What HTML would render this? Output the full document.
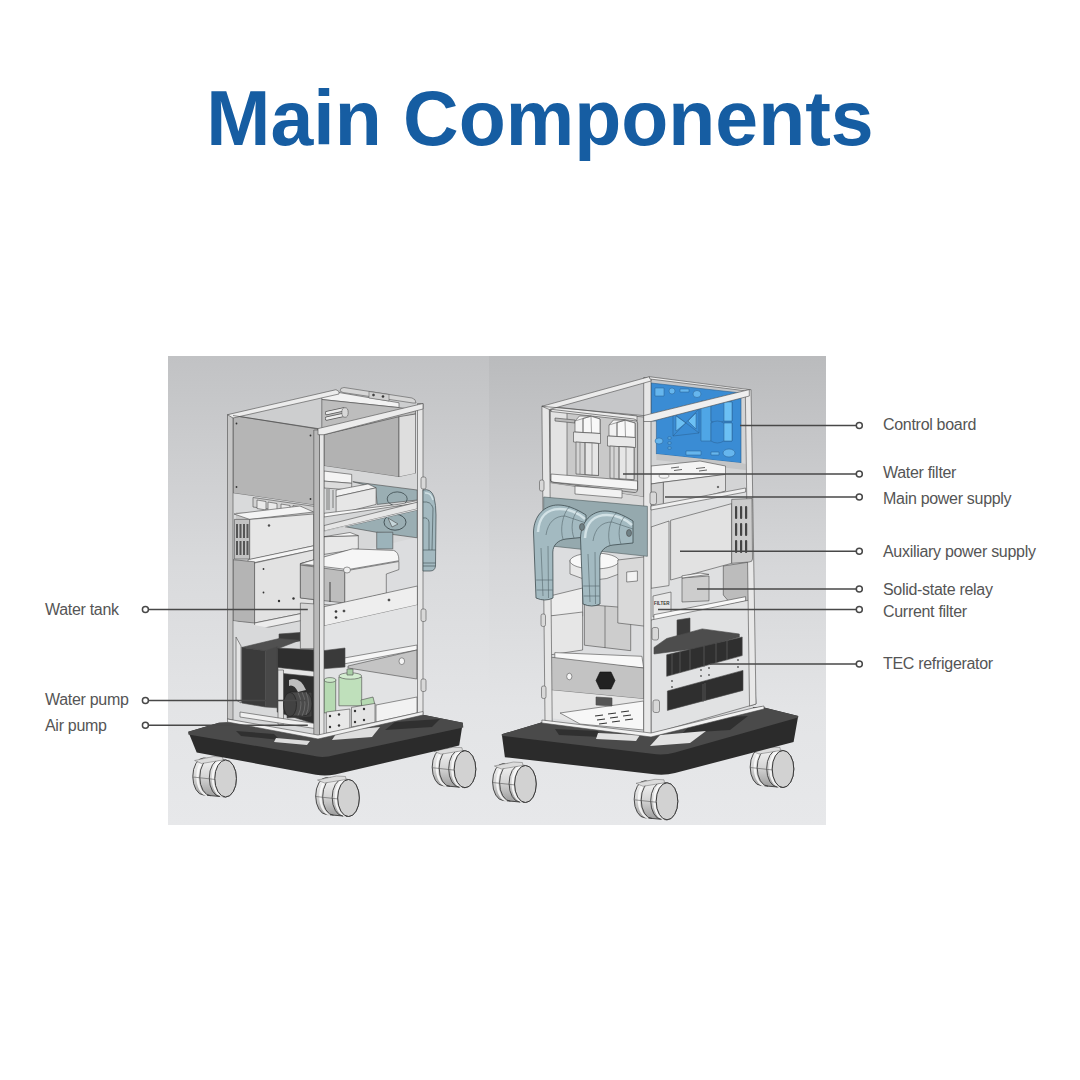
<!DOCTYPE html>
<html><head><meta charset="utf-8">
<style>
html,body{margin:0;padding:0;background:#fff;}
body{width:1080px;height:1080px;position:relative;overflow:hidden;font-family:"Liberation Sans",sans-serif;}
.title{position:absolute;left:0;top:0;width:1080px;text-align:center;color:#165da2;font-weight:bold;font-size:77px;line-height:1;}
.lbl{position:absolute;color:#555;font-size:16px;line-height:1;white-space:nowrap;letter-spacing:-0.3px;}
svg{position:absolute;left:0;top:0;}
</style></head>
<body>
<div class="title" id="title" style="top:80px">Main Components</div>
<svg width="1080" height="1080" viewBox="0 0 1080 1080">
<defs>
<linearGradient id="bgL" x1="0" y1="0" x2="0" y2="1">
<stop offset="0" stop-color="#c1c2c4"/><stop offset="0.45" stop-color="#d9dadc"/><stop offset="0.75" stop-color="#e3e4e6"/><stop offset="1" stop-color="#e7e8ea"/></linearGradient>
<linearGradient id="bgR" x1="0" y1="0" x2="0" y2="1">
<stop offset="0" stop-color="#babbbd"/><stop offset="0.45" stop-color="#d6d7d9"/><stop offset="0.75" stop-color="#e3e4e6"/><stop offset="1" stop-color="#e7e8ea"/></linearGradient>
<linearGradient id="barrel" x1="0" y1="0" x2="0" y2="1">
<stop offset="0" stop-color="#f4f4f4"/><stop offset="0.5" stop-color="#d4d4d4"/><stop offset="1" stop-color="#9a9a9a"/></linearGradient>

</defs>
<rect x="168" y="356" width="321" height="469" fill="url(#bgL)"/>
<rect x="489" y="356" width="337" height="469" fill="url(#bgR)"/>
<g id="machineL">
<g transform="translate(225.6,778.5)">
<path d="M-22,-20.5 L0,-18.5 A10.8,18.5 0 0 1 0,18.5 L-22,16.5 A10.8,18.5 0 0 1 -22,-20.5 Z" fill="url(#barrel)" stroke="#3a3a3a" stroke-width="0.9"/>
<path d="M-18.5,-20 A10.8,18.5 0 0 0 -18.5,16.8 M-2.7,-18.7 A10.8,18.5 0 0 0 -2.7,18.2" fill="none" stroke="#fafafa" stroke-width="2.2" opacity="0.85"/>
<path d="M-15,-19.8 A10.8,18.5 0 0 0 -15,17.2 M-5.5,-19 A10.8,18.5 0 0 0 -5.5,18" fill="none" stroke="#3a3a3a" stroke-width="0.9"/>
<path d="M-32.8,-1.5 L-10,1" fill="none" stroke="#555" stroke-width="0.6"/>
<path d="M-31,-18 L-12,-22 L-3,-21.5 L-2.5,-18.5 L-24,-15 Z" fill="#dcdcdc" stroke="#666" stroke-width="0.5"/>
<ellipse cx="0" cy="0" rx="10.8" ry="18.5" fill="#d2d2d2" stroke="#3a3a3a" stroke-width="1"/>
</g>
<g transform="translate(348.5,798)">
<path d="M-22,-20.5 L0,-18.5 A10.8,18.5 0 0 1 0,18.5 L-22,16.5 A10.8,18.5 0 0 1 -22,-20.5 Z" fill="url(#barrel)" stroke="#3a3a3a" stroke-width="0.9"/>
<path d="M-18.5,-20 A10.8,18.5 0 0 0 -18.5,16.8 M-2.7,-18.7 A10.8,18.5 0 0 0 -2.7,18.2" fill="none" stroke="#fafafa" stroke-width="2.2" opacity="0.85"/>
<path d="M-15,-19.8 A10.8,18.5 0 0 0 -15,17.2 M-5.5,-19 A10.8,18.5 0 0 0 -5.5,18" fill="none" stroke="#3a3a3a" stroke-width="0.9"/>
<path d="M-32.8,-1.5 L-10,1" fill="none" stroke="#555" stroke-width="0.6"/>
<path d="M-31,-18 L-12,-22 L-3,-21.5 L-2.5,-18.5 L-24,-15 Z" fill="#dcdcdc" stroke="#666" stroke-width="0.5"/>
<ellipse cx="0" cy="0" rx="10.8" ry="18.5" fill="#d2d2d2" stroke="#3a3a3a" stroke-width="1"/>
</g>
<g transform="translate(465,769.2)">
<path d="M-22,-20.5 L0,-18.5 A10.8,18.5 0 0 1 0,18.5 L-22,16.5 A10.8,18.5 0 0 1 -22,-20.5 Z" fill="url(#barrel)" stroke="#3a3a3a" stroke-width="0.9"/>
<path d="M-18.5,-20 A10.8,18.5 0 0 0 -18.5,16.8 M-2.7,-18.7 A10.8,18.5 0 0 0 -2.7,18.2" fill="none" stroke="#fafafa" stroke-width="2.2" opacity="0.85"/>
<path d="M-15,-19.8 A10.8,18.5 0 0 0 -15,17.2 M-5.5,-19 A10.8,18.5 0 0 0 -5.5,18" fill="none" stroke="#3a3a3a" stroke-width="0.9"/>
<path d="M-32.8,-1.5 L-10,1" fill="none" stroke="#555" stroke-width="0.6"/>
<path d="M-31,-18 L-12,-22 L-3,-21.5 L-2.5,-18.5 L-24,-15 Z" fill="#dcdcdc" stroke="#666" stroke-width="0.5"/>
<ellipse cx="0" cy="0" rx="10.8" ry="18.5" fill="#d2d2d2" stroke="#3a3a3a" stroke-width="1"/>
</g>
<!-- base -->
<path d="M188.3,731.7 L218.9,722.8 L421.7,714.4 L462.8,722.8 L459.2,745.6 L335,774.5 Q325.6,776.5 316,774.8 L196.7,752.5 Z" fill="#2b2b2b"/>
<path d="M188.3,731.7 L218.9,722.8 L421.7,714.4 L462.8,722.8 L463.3,727.5 L335,755 Q323,758.5 312,755.5 L188.3,734.4 Z" fill="#4a4a4a"/>
<path d="M236,731 L274,734 L280,740 L241,736 Z" fill="#303030"/>
<path d="M276,738 L310,741 L307,745 L274,742 Z" fill="#dcdcdc"/>
<path d="M395,722 L440,719 L432,727 L385,730 Z" fill="#303030"/>
<path d="M338,731 L380,727 L372,737 L332,740 Z" fill="#dedede"/>
<!-- body L placeholder -->
<g stroke="#4a4a4a" stroke-width="0.6" stroke-linejoin="round">
<!-- interior through right face -->
<path d="M318,428.6 L423,403.5 L423,713.6 L318,737 Z" fill="#dcdddf" stroke="none"/>
<!-- top opening interior -->
<path d="M227.5,414.7 L336,389.7 L423,403.5 L318,428.6 Z" fill="#cdcecf" stroke="none"/>
<!-- back wall top strip & wall -->
<path d="M321.8,396 L336,392 L399,402.8 L399,407.6 L321.8,399.5 Z" fill="#f2f2f2"/>
<path d="M321.8,399.5 L399,407.6 L415.5,410 L415.5,414 L324,434.7 L321.8,428 Z" fill="#bdbdbd"/>
<path d="M327,413 L343,409.5 M327,418.5 L343,415" stroke="#555" stroke-width="4.2" stroke-linecap="round"/>
<path d="M327,413 L343,409.5 M327,418.5 L343,415" stroke="#ececec" stroke-width="2.8" stroke-linecap="round"/>
<ellipse cx="345" cy="412.5" rx="3.2" ry="4.8" fill="#d8d8d8" stroke="#555" stroke-width="0.6"/>
<!-- handle -->
<path d="M340,391 Q340,387.5 344,387.5 L412,398 Q416,399 416,403 L413,403 L343,392.5 Z" fill="#d6d6d6" stroke="#555" stroke-width="0.6"/>
<path d="M369,391.5 L389,394.5 L389,401 L369,398 Z" fill="#d0d0d0" stroke="#555" stroke-width="0.5"/><circle cx="373.5" cy="395" r="1.1" fill="#333"/><circle cx="383" cy="396.5" r="1.1" fill="#333"/>
<!-- top box -->
<path d="M324,434.7 L399,416.7 L399,477 L324,466 Z" fill="#b2b2b2"/>
<path d="M399,416.7 L415.5,414 L415.5,473.6 L399,477 Z" fill="#dedede"/>
<!-- upper shelf region -->
<path d="M324,466 L399,477 L415.5,473.6 L417.5,474 L417.5,537 L324,560 Z" fill="#d6d7d8" stroke="none"/>
<path d="M352.8,481.7 L417.2,490 L417.2,500 L377.2,504.4 L375.6,487.8 Z" fill="#9aaeb3"/>
<ellipse cx="397.2" cy="498.9" rx="10" ry="7" fill="none" stroke="#3c4a4e" stroke-width="0.8"/>
<path d="M323.9,471 L351.7,474.4 L351.7,483.3 L323.9,481.1 Z" fill="#f4f4f4"/>
<path d="M323.9,481.1 L351.7,483.3 L351.7,490 L323.9,488 Z" fill="#dcdcdc"/>
<path d="M327,489 L327,510 M329,489 L329,510 M333,490 L333,508" stroke="#555" stroke-width="0.7"/>
<path d="M336.1,490 L368,484 L376.1,487.8 L336.1,496.7 Z" fill="#f2f2f2"/>
<path d="M336.1,496.7 L376.1,487.8 L376.1,504.4 L336.1,514.4 Z" fill="#e6e6e6"/>
<path d="M323.9,513.3 L398.3,504.4 L417.2,500.6 L417.2,503 L323.9,517 Z" fill="#f6f6f6"/>
<path d="M345,526.7 L417.2,510 L417.2,537.8 L376.1,532.2 Z" fill="#9aaeb3"/>
<ellipse cx="395" cy="522.2" rx="11" ry="8" fill="none" stroke="#3c4a4e" stroke-width="0.9"/>
<path d="M388,518 L398,524 L392,527 Z" fill="#c6d6da"/>
<path d="M376.7,532.2 L392.8,532.2 L392.8,548.9 L376.7,548.9 Z" fill="#9cb3ba"/>
<!-- middle rail -->
<path d="M323.9,525.6 L417.2,502.2 L417.2,508.9 L323.9,531.1 Z" fill="#e6e6e6"/>
<!-- second compartment -->
<path d="M323.9,531.1 L417.2,508.9 L417.2,510 L345,526.7 L324,531.5 Z" fill="#dedfe0" stroke="none"/>
<path d="M323.9,536.7 L358.3,535.6 L358.3,548.9 L323.9,554.4 Z" fill="#e8e8e8"/>
<path d="M323.9,536.7 L350,532.5 L358.3,535.6 Z" fill="#f6f6f6"/>
<!-- left face: upper solid panel -->
<path d="M233,415.5 L318,429 L318,505.7 L233,493.2 Z" fill="#b5b5b5"/>
<g fill="#333" stroke="none"><circle cx="236.5" cy="423.5" r="0.9"/><circle cx="310.5" cy="435.5" r="0.9"/><circle cx="236.5" cy="487" r="0.9"/><circle cx="310.5" cy="499" r="0.9"/></g>
<!-- left face opening 2 -->
<path d="M233,493.2 L318,505.7 L318,737 L233,720 Z" fill="#d9dadb" stroke="none"/>
<path d="M253,497.5 L315,506.5 L315,515 L253,507 Z" fill="#d2d2d2"/>
<path d="M257,500 L266,501.5 L266,510 L257,508.5 Z M268,502 L277,503.5 L277,512 L268,510.5 Z M281,504 L290,505.5 L290,514 L281,512.5 Z M293,505.5 L302,507 L302,515 L293,513.5 Z" fill="#e9e9e9"/>
<path d="M236,512 L315,512 L315,519 L236,519 Z" fill="#c9c9c9" stroke="none"/>
<path d="M234,514 L300,506 L313.6,512 L249.7,519.4 Z" fill="#f4f4f4"/>
<path d="M234.4,519.4 L249.7,519.4 L249.7,559 L234.4,559 Z" fill="#c2c2c2"/>
<g fill="#555" stroke="none"><rect x="236" y="524" width="2" height="14"/><rect x="239.5" y="524" width="2" height="14"/><rect x="243" y="524" width="2" height="14"/><rect x="246.5" y="524" width="2" height="14"/><rect x="236" y="541" width="2" height="14"/><rect x="239.5" y="541" width="2" height="14"/><rect x="243" y="541" width="2" height="14"/><rect x="246.5" y="541" width="2" height="14"/></g>
<path d="M249.7,519.4 L313.6,514 L313.6,545.8 L249.7,559.7 Z" fill="#e6e6e6"/>
<circle cx="269" cy="525.5" r="0.9" fill="#333"/>
<path d="M248,559.7 L313.6,545.8 L313.6,550 L248,564 Z" fill="#f5f5f5"/>
<path d="M233,559.7 L254.6,561.8 L254.6,623 L233,620.8 Z" fill="#b4b4b4"/>
<path d="M254.6,563 L313.6,550 L313.6,611 L254.6,623 Z" fill="#e2e2e2"/>
<path d="M300.4,563.7 L318,559 L318,600 L300.4,597.8 Z" fill="#d0d0d0"/>
<path d="M300.4,563.7 L318,558.5 L318,566 L300.4,565 Z" fill="#f7f7f7"/>
<g fill="#333" stroke="none"><circle cx="263.5" cy="569" r="0.9"/><circle cx="263.5" cy="592.5" r="0.9"/><circle cx="279" cy="601" r="1.2"/><circle cx="293.5" cy="598.5" r="1.2"/></g>
<path d="M254.6,623 L313.6,611 L313.6,618 L254.6,630 Z" fill="#ececec"/>
<!-- left lower opening: water pump -->
<path d="M233,621 L318,637 L318,737 L233,720 Z" fill="#d8d9da" stroke="none"/>
<path d="M236,637 L241,646 L241,703 L236,700 Z" fill="#e4e4e4"/>
<path d="M279,634 L300,632.5 L300,641 L279,643 Z" fill="#3a3a3a"/>
<path d="M241.8,647.4 L279.2,638.5 L299.6,640.3 L278.2,648.5 L265.4,651 Z" fill="#505050"/>
<path d="M241.8,647.4 L265.4,650.8 L265.4,707 L241.8,703 Z" fill="#3b3b3b"/>
<path d="M265.4,650.8 L277.2,646.7 L277.2,707.8 L265.4,707 Z" fill="#484848"/>
<path d="M277.2,648 L318,650 L318,725 L277.2,712 Z" fill="#2e2e2e"/>
<path d="M278,667.5 L317.5,671.7 L317.5,677 L278,673 Z" fill="#e6e6e6"/>
<path d="M278,670 L283.5,670 L283.5,724.4 L278,724.4 Z" fill="#e0e0e0"/>
<path d="M287,697 L311,693 L311,716 L287,718 Z" fill="#3c3c3c"/>
<path d="M300,692 Q312,690 312,704 Q312,717 300,716 L290,716 L290,692 Z" fill="#4a4a4a" stroke="#222" stroke-width="0.6"/>
<ellipse cx="290" cy="704.5" rx="6.5" ry="12" fill="#424242" stroke="#222" stroke-width="0.7"/>
<path d="M298,692.5 Q304,704 298,715.5 M302,692 Q308,704 302,716 M306,692 Q311,704 306,715" fill="none" stroke="#777" stroke-width="0.7"/>
<path d="M289,680 Q300,676 306,690 L298,692 Q294,684 289,686 Z" fill="#bdbdbd" stroke="none"/>
<path d="M240,712 L318,724 L318,729 L240,717 Z" fill="#f0f0f0"/>
<!-- water tank -->
<path d="M300.4,563.7 L352.2,548.9 L393.7,550.4 Q399,552 398.9,560.7 L347.8,569.6 Z" fill="#f6f6f6"/>
<path d="M300.4,565 L344.8,571 L344.8,603 L300.4,598 Z" fill="#bdbdbd"/>
<path d="M344.8,571 L398.9,561.5 L398.9,569.6 L386.3,574 L386.3,593.3 L344.8,603 Z" fill="#e3e3e3"/>
<ellipse cx="347" cy="570" rx="3.5" ry="3" fill="#f0f0f0" stroke="#555" stroke-width="0.6"/>
<path d="M330,582 L330,602" stroke="#333" stroke-width="0.9"/>
<path d="M346.3,617 L384.8,608 L384.8,648 L346.3,657 Z" fill="#dcdcdc"/>
<path d="M300.4,603 L346,606 L346,660 L314,652 L314,648.7 L300.4,648.7 Z" fill="#d6d6d6"/>
<!-- cross bar -->
<path d="M324,606.7 L417.4,586 L417.4,605 L324,626 Z" fill="#eeeeee"/>
<circle cx="336" cy="611.5" r="1.1" fill="#333"/><circle cx="344" cy="611" r="1.1" fill="#333"/><circle cx="336" cy="617.5" r="1.1" fill="#333"/><circle cx="389" cy="600" r="1.1" fill="#333"/>
<!-- lower compartment interior -->
<path d="M324,626 L417.4,605 L417.4,713.6 L324,737 Z" fill="#e2e3e4" stroke="none"/>
<path d="M333,660 L417,645 L417,650 L333,666 Z" fill="#f6f6f6"/>
<path d="M348,666 L416.8,650 L416.8,679 L348,668 Z" fill="#c4c4c4"/>
<ellipse cx="401.8" cy="661.2" rx="2.8" ry="3.4" fill="#f4f4f4" stroke="#555" stroke-width="0.6"/>
<path d="M323,650.7 L345,648 L345,667 L323,668.8 Z" fill="#3a3a3a"/>
<!-- green pumps -->
<path d="M338.9,677 L361.7,677 L361.7,705.8 L338.9,705.8 Z" fill="#bfe0bb"/>
<ellipse cx="350.3" cy="676" rx="11.4" ry="3.2" fill="#d3ecd0"/>
<rect x="347" y="669" width="6" height="6" fill="#a9cfa6"/>
<path d="M324,680 L335.7,680 L335.7,712.9 L324,712.9 Z" fill="#b6dab2"/>
<ellipse cx="330" cy="680" rx="6" ry="2.4" fill="#cde8ca"/>
<path d="M361,700 L373,697 L375,705 L362,708 Z" fill="#b6dab2"/>
<!-- manifold blocks -->
<path d="M326.3,712 L349.9,709 L349.9,730.2 L326.3,733.3 Z" fill="#e8e8e8"/>
<path d="M351.5,707.4 L375,703.4 L375,722.3 L351.5,727 Z" fill="#e4e4e4"/>
<g fill="#333" stroke="none"><circle cx="330" cy="716" r="1.2"/><circle cx="339" cy="714.5" r="1.2"/><circle cx="330" cy="727" r="1.2"/><circle cx="339" cy="725.5" r="1.2"/><circle cx="355" cy="711" r="1.2"/><circle cx="364" cy="709" r="1.2"/><circle cx="355" cy="722" r="1.2"/><circle cx="364" cy="720" r="1.2"/></g>
<path d="M376,705 L417,697 L417,713 L376,722 Z" fill="#f2f2f2"/>
<!-- frame -->
<path d="M227.5,414.7 L233,414.7 L233,720 L227.5,719 Z" fill="#c6c6c6"/>
<path d="M313.8,430 L319.5,430 L319.5,737 L313.8,736 Z" fill="#b9b9b9"/>
<path d="M319.5,428.6 L324,428.6 L324,737.5 L319.5,737.5 Z" fill="#e6e6e6"/>
<path d="M417.5,403.5 L423,403.5 L423,714 L417.5,714 Z" fill="#e6e6e6"/>
<path d="M227.5,414.7 L336,389.7 L339,391.5 L339,394 L233,418 Z" fill="#ececec"/>
<path d="M233,415.5 L318,428.6" fill="none"/>
<path d="M318,428.6 L423,403.5 L423,409 L324,434.7 L318,434.7 Z" fill="#ececec"/>
<path d="M227.5,719 L318,735 L423,711.5 L423,715 L318,739 L227.5,722 Z" fill="#f0f0f0"/>
<g fill="#d8d8d8" stroke="#555" stroke-width="0.6"><rect x="421" y="477" width="5" height="12" rx="1.8"/><rect x="421" y="609" width="5" height="12.5" rx="1.8"/><rect x="421" y="679" width="5" height="12.5" rx="1.8"/></g>
<!-- exterior elbow -->
<path d="M423,490 Q431,488 434,497 Q436,505 436,515 L435.5,566 Q435,571 430,571 L423,571 Z" fill="#a3b9c0" stroke="#3d4b4f" stroke-width="0.7"/>
<path d="M423,502 Q431,501 433,508 L432,550 M423,518 Q428,517 429,522 L429,550 M423,550 L435.5,550 M423,563 L435.5,563 M423,566 L435.5,566" fill="none" stroke="#3d4b4f" stroke-width="0.6"/>
<path d="M425,493 Q431,492 433,500" fill="none" stroke="#d0e0e4" stroke-width="1.5"/>
</g>

</g>
<g id="machineR">
<g transform="translate(525.4,784)">
<path d="M-22,-20.5 L0,-18.5 A10.8,18.5 0 0 1 0,18.5 L-22,16.5 A10.8,18.5 0 0 1 -22,-20.5 Z" fill="url(#barrel)" stroke="#3a3a3a" stroke-width="0.9"/>
<path d="M-18.5,-20 A10.8,18.5 0 0 0 -18.5,16.8 M-2.7,-18.7 A10.8,18.5 0 0 0 -2.7,18.2" fill="none" stroke="#fafafa" stroke-width="2.2" opacity="0.85"/>
<path d="M-15,-19.8 A10.8,18.5 0 0 0 -15,17.2 M-5.5,-19 A10.8,18.5 0 0 0 -5.5,18" fill="none" stroke="#3a3a3a" stroke-width="0.9"/>
<path d="M-32.8,-1.5 L-10,1" fill="none" stroke="#555" stroke-width="0.6"/>
<path d="M-31,-18 L-12,-22 L-3,-21.5 L-2.5,-18.5 L-24,-15 Z" fill="#dcdcdc" stroke="#666" stroke-width="0.5"/>
<ellipse cx="0" cy="0" rx="10.8" ry="18.5" fill="#d2d2d2" stroke="#3a3a3a" stroke-width="1"/>
</g>
<g transform="translate(667,801.3)">
<path d="M-22,-20.5 L0,-18.5 A10.8,18.5 0 0 1 0,18.5 L-22,16.5 A10.8,18.5 0 0 1 -22,-20.5 Z" fill="url(#barrel)" stroke="#3a3a3a" stroke-width="0.9"/>
<path d="M-18.5,-20 A10.8,18.5 0 0 0 -18.5,16.8 M-2.7,-18.7 A10.8,18.5 0 0 0 -2.7,18.2" fill="none" stroke="#fafafa" stroke-width="2.2" opacity="0.85"/>
<path d="M-15,-19.8 A10.8,18.5 0 0 0 -15,17.2 M-5.5,-19 A10.8,18.5 0 0 0 -5.5,18" fill="none" stroke="#3a3a3a" stroke-width="0.9"/>
<path d="M-32.8,-1.5 L-10,1" fill="none" stroke="#555" stroke-width="0.6"/>
<path d="M-31,-18 L-12,-22 L-3,-21.5 L-2.5,-18.5 L-24,-15 Z" fill="#dcdcdc" stroke="#666" stroke-width="0.5"/>
<ellipse cx="0" cy="0" rx="10.8" ry="18.5" fill="#d2d2d2" stroke="#3a3a3a" stroke-width="1"/>
</g>
<g transform="translate(783,769)">
<path d="M-22,-20.5 L0,-18.5 A10.8,18.5 0 0 1 0,18.5 L-22,16.5 A10.8,18.5 0 0 1 -22,-20.5 Z" fill="url(#barrel)" stroke="#3a3a3a" stroke-width="0.9"/>
<path d="M-18.5,-20 A10.8,18.5 0 0 0 -18.5,16.8 M-2.7,-18.7 A10.8,18.5 0 0 0 -2.7,18.2" fill="none" stroke="#fafafa" stroke-width="2.2" opacity="0.85"/>
<path d="M-15,-19.8 A10.8,18.5 0 0 0 -15,17.2 M-5.5,-19 A10.8,18.5 0 0 0 -5.5,18" fill="none" stroke="#3a3a3a" stroke-width="0.9"/>
<path d="M-32.8,-1.5 L-10,1" fill="none" stroke="#555" stroke-width="0.6"/>
<path d="M-31,-18 L-12,-22 L-3,-21.5 L-2.5,-18.5 L-24,-15 Z" fill="#dcdcdc" stroke="#666" stroke-width="0.5"/>
<ellipse cx="0" cy="0" rx="10.8" ry="18.5" fill="#d2d2d2" stroke="#3a3a3a" stroke-width="1"/>
</g>
<path d="M501.8,734.3 L543,722 L761.5,706.8 L798.2,716 L793.6,742 L675,773 Q664.4,775.8 652,774 L504.9,757.2 Z" fill="#2b2b2b"/>
<path d="M501.8,734.3 L543,722 L761.5,706.8 L798.2,716 L798.2,717.5 L675,752.5 Q664.4,755.5 652,753.8 L501.8,735.8 Z" fill="#4a4a4a"/>
<path d="M555,729 L598,731 L601,737 L559,735 Z" fill="#303030"/>
<path d="M598,733 L640,735 L636,741 L596,739 Z" fill="#e0e0e0"/>
<path d="M695,719 L748,716 L730,730 L683,733 Z" fill="#303030"/>
<path d="M660,735 L706,731 L690,743 L650,746 Z" fill="#e2e2e2"/>
<g stroke="#4a4a4a" stroke-width="0.6" stroke-linejoin="round">
<path d="M541.9,406.3 L649.3,376.7 L749.3,389.6 L753,710 L651,734 L545,721 Z" fill="#dcdddf" stroke="none"/>
<path d="M541.9,406.3 L649.3,376.7 L749.3,389.6 L643.7,415.6 Z" fill="#c6c7c9" stroke="none"/>
<!-- left face: filter compartment -->
<path d="M549.3,408 L643.7,417 L643.7,497 L549.3,483 Z" fill="#c9c9c9"/>
<path d="M550,410 L567,412 L567,482 L550,480 Z" fill="#e3e3e3"/>
<path d="M551,406.5 L637,416 L637,421 L551,411.5 Z" fill="#ececec"/>
<path d="M551,474 L637.6,481 L637.6,490 L551,482 Z" fill="#f4f4f4"/>
<path d="M550,412 Q550,409 553,409.5 L634,419 Q637.6,419.5 637.6,423 L637.6,489 Q637.6,493 634,492.5 L554,482.5 Q550,482 550,479 Z" fill="none" stroke="#555" stroke-width="0.7"/>
<path d="M555,418 L575,420 L575,423 L555,421 Z" fill="#bbb"/>
<!-- filters -->
<g>
<path d="M575,421 L579.5,416 L591,416.2 L600,419 L600,433.5 L575,432 Z" fill="#f2f2f2"/>
<path d="M583,418.5 L591,416.2 L600,419 L600,433.5 L583,432.5 Z" fill="#f8f8f8"/>
<path d="M583,418.5 L583,432.5 M591,416.2 L591.5,433" fill="none" stroke="#666" stroke-width="0.6"/>
<path d="M575,421 L583,418.5 L591,416.2" fill="none" stroke="#666" stroke-width="0.6"/>
<path d="M573.5,432 L600.5,433.5 L600.5,443.5 L573.5,442 Z" fill="#e8e8e8"/>
<path d="M576,442 L598.5,443.5 L598.5,475.5 L576,474 Z" fill="#d4d4d4"/>
<path d="M585,442.5 L598.5,443.5 L598.5,475.5 L585,474.5 Z" fill="#e6e6e6"/>
<path d="M580,442.5 L580,474 M585,442.8 L585,474.5 M592,443.2 L592,475" fill="none" stroke="#666" stroke-width="0.6"/>
<path d="M609,425 L613.5,420 L625,420.2 L635,423 L635,437.5 L609,436 Z" fill="#f2f2f2"/>
<path d="M617,422.5 L625,420.2 L635,423 L635,437.5 L617,436.5 Z" fill="#f8f8f8"/>
<path d="M617,422.5 L617,436.5 M625,420.2 L625.5,437" fill="none" stroke="#666" stroke-width="0.6"/>
<path d="M609,425 L617,422.5 L625,420.2" fill="none" stroke="#666" stroke-width="0.6"/>
<path d="M607.5,436 L635.5,437.5 L635.5,447.5 L607.5,446 Z" fill="#e8e8e8"/>
<path d="M610,446 L634,447.5 L634,479.7 L610,478.2 Z" fill="#d4d4d4"/>
<path d="M619,446.5 L634,447.5 L634,479.7 L619,478.7 Z" fill="#e6e6e6"/>
<path d="M614,446.5 L614,478 M619,446.8 L619,478.5 M626,447.2 L626,479" fill="none" stroke="#666" stroke-width="0.6"/>
</g>
<!-- gap under filters -->
<path d="M549.3,483 L643.7,497 L643.7,507 L549.3,497 Z" fill="#d8d8d8" stroke="none"/>
<path d="M575,486 L622,490 L622,498 L575,494 Z" fill="#f2f2f2"/>
<!-- round tank behind elbows -->
<path d="M570,560 L619,560 L619,574 Q594.5,586 570,574 Z" fill="#e8e8e8"/>
<ellipse cx="594.5" cy="561" rx="24.5" ry="8" fill="#f8f8f8"/>
<!-- lower-left interior -->
<path d="M545.6,597 L582.6,588 L582.6,616 L545.6,616 Z" fill="#ededed"/>
<path d="M549.3,616 L582.6,612 L582.6,650 L549.3,655 Z" fill="#e6e6e6"/>
<path d="M584.4,604.4 L630.7,608 L630.7,650.7 L584.4,645.2 Z" fill="#cdcdcd"/>
<path d="M605,606 L605,648" fill="none"/>
<path d="M554.8,652.6 L641.9,656.3 L643.7,668 L554.8,660 Z" fill="#f8f8f8"/>
<path d="M617.8,560 L649.3,556.3 L649.3,626.7 L617.8,623 Z" fill="#d9d9d9"/>
<path d="M626.7,572 L637.4,571 L637.4,581 L626.7,582 Z" fill="#f2f2f2"/>
<!-- band -->
<path d="M549.3,657 L643.7,668 L643.7,699 L549.3,690 Z" fill="#c3c3c3"/>
<ellipse cx="569.3" cy="676.5" rx="2.6" ry="3.3" fill="#f6f6f6" stroke="#555"/>
<path d="M600,672 L611,672 L615,680.5 L611,689 L600,689 L596,680.5 Z" fill="#222" stroke="#111"/>
<!-- bottom opening -->
<path d="M549.3,690 L643.7,699 L643.7,730 L549.3,718 Z" fill="#e6e6e6" stroke="none"/>
<path d="M560,713 L643.7,701 L643.7,730 L580,724 Z" fill="#f7f7f7"/>
<g stroke="#333" stroke-width="1.2"><path d="M595,716 L603,715 M608,714 L616,713 M621,712 L629,711 M597,720 L605,719 M610,718 L618,717 M623,716 L631,715 M599,724 L607,723 M612,722 L620,721 M625,720 L633,719"/></g>
<path d="M596,697 L612,698 L612,706 L596,705 Z" fill="#555"/>
<!-- front face upper -->
<path d="M651,421.5 L745.6,397 L745.6,488 L651,506 Z" fill="#d3d4d5" stroke="none"/>
<path d="M651,383 L741,393 L741,463 L656.4,454 L656.4,421 L651,421 Z" fill="#3a8cd4" stroke="#2a5f8e"/>
<path d="M656.4,454 L741,463 L745.6,464 L745.6,470 L656.4,460 Z" fill="#c4c5c6" stroke="none"/>
<path d="M643.7,377.5 L651,378 L651,416 L643.7,416 Z" fill="#e6e6e6"/>
<g fill="#66b6ee" stroke="#2a5f8e" stroke-width="0.5">
<rect x="655" y="388" width="9" height="8"/><circle cx="672" cy="391" r="3"/><rect x="680" y="389" width="9" height="3"/><ellipse cx="697" cy="394" rx="4" ry="3.5"/>
<path d="M673,413 L699,409 L699,433 L673,436 Z" fill="#3a8cd4"/>
<path d="M676,416 L686,423 L676,431 Z M696,413 L688,421 L696,429 Z" fill="#6cc0f4"/>
<path d="M673,413 L699,433 M699,409 L673,436" fill="none"/>
<rect x="701" y="401" width="10" height="40" fill="#4fa6e6"/>
<path d="M711,402 Q717,398 724,402 L732,402 L732,421 L724,421 Q717,425 711,421 Z" fill="#3a8cd4"/>
<path d="M711,423 Q717,419 724,423 L732,423 L732,441 L724,441 Q717,445 711,441 Z" fill="#3a8cd4"/>
<path d="M724,402 L732,402 L732,421 L724,421 Z M724,423 L732,423 L732,441 L724,441 Z" fill="#6cc0f4"/>
<ellipse cx="659" cy="441" rx="4" ry="3"/><rect x="668" y="437" width="3" height="2"/><rect x="668" y="442" width="3" height="2"/><rect x="668" y="447" width="3" height="2"/>
<rect x="686" y="451" width="15" height="4"/><rect x="711" y="452" width="8" height="3"/><ellipse cx="729" cy="453" rx="6" ry="4"/>
</g>
<path d="M651,466 L700,461 L725.5,466 L725.5,474.4 L663.3,482.2 L651,484 Z" fill="#f4f4f4"/>
<path d="M663.3,482.2 L725.5,474.4 L725.5,491 L663.3,507.8 Z" fill="#e2e2e2"/>
<path d="M651,484 L663.3,482.2 L663.3,507.8 L651,506 Z" fill="#d2d2d2"/>
<path d="M671,468 L679,467 M674,470.5 L682,469.5 M696,468.5 L705,467.5 M699,471 L707,470" stroke="#555" stroke-width="0.9"/>
<ellipse cx="664" cy="476" rx="5" ry="2.2" fill="none" stroke="#777" stroke-width="0.6"/>
<circle cx="718" cy="487" r="0.8" fill="#444"/>
<!-- middle front compartment -->
<path d="M651,506 L745.6,488 L745.6,600 L651,620 Z" fill="#dfe0e1" stroke="none"/>
<path d="M670.6,520.3 L731.7,503.6 L731.7,563.3 L670.6,580 Z" fill="#e2e2e2"/>

<path d="M651,527 L669,521 L669,585.6 L651,588.3 Z" fill="#e4e4e4"/>
<path d="M682,578 L709,576 L709,600.8 L682,602 Z" fill="#cdcdcd"/>
<path d="M682,575.8 L700,573 L709,574.4 L682,578 Z" fill="#f4f4f4"/>
<path d="M723.3,566 L749.7,562 L749.7,625.8 L723.3,595 Z" fill="#bcbcbc"/>
<path d="M653,596 L671,592 L671,613 L653,617 Z" fill="#e8e8e8"/>
<text x="654" y="605" font-size="4.5" font-weight="bold" fill="#333" stroke="none" font-family="Liberation Sans, sans-serif">FILTER</text>
<path d="M653.9,614.7 L745.6,596.7 L745.6,601 L653.9,621.7 Z" fill="#f8f8f8"/>
<!-- lower front -->
<path d="M651,620 L749.5,600 L756,704 L651,734 Z" fill="#e1e2e3"/>
<path d="M677,620 L690,618 L690,634 L677,636 Z" fill="#3a3a3a"/>
<path d="M654,647.4 L666.7,638.5 L702.2,628.9 L739.3,634 L739.3,637 L700,648 L654,654 Z" fill="#4d4d4d"/>
<path d="M666.7,654.8 L742.2,637 L742.2,655.6 L666.7,676.3 Z" fill="#2f2f2f"/>
<path d="M667.4,691 L743,670.4 L743,690.4 L667.4,710.4 Z" fill="#2f2f2f"/>
<g stroke="#5a5a5a" stroke-width="0.8"><path d="M672,654 L672,675 M680,652 L680,673 M690,650 L690,670 M704,646 L704,667 M716,643 L716,663 M727,641 L727,660 M703,684 L703,702 M705,683 L705,701"/></g>
<g fill="#555" stroke="none"><circle cx="672" cy="681" r="0.9"/><circle cx="672" cy="687" r="0.9"/><circle cx="701" cy="670" r="0.9"/><circle cx="701" cy="676" r="0.9"/><circle cx="709" cy="668" r="0.9"/><circle cx="709" cy="675" r="0.9"/><circle cx="738" cy="660" r="0.9"/><circle cx="738" cy="667" r="0.9"/></g>
<!-- frame -->
<path d="M541.9,406.3 L549.3,406.3 L552.2,722 L545,721 Z" fill="#e6e6e6"/>
<path d="M643.7,415.6 L651,415.6 L651,734 L643.7,734 Z" fill="#e8e8e8"/>
<path d="M745.3,389.6 L751,389.6 L756,704 L749.5,706 Z" fill="#e8e8e8"/>
<path d="M541.9,406.3 L649.3,376.7 L651,379.5 L651,381 L549.3,409.5 Z" fill="#ececec"/>
<path d="M649.3,376.7 L749.3,389.6 L747,391 L650,379 Z" fill="#ececec"/>
<path d="M643.7,415.6 L749.3,389.6 L749.3,396 L651,421.5 L643.7,421.5 Z" fill="#efefef"/>
<path d="M541.9,406.3 L643.7,415.6" fill="none"/>
<path d="M651,506 L745.6,488 L745.6,492 L651,510 Z" fill="#efefef"/>
<path d="M541.9,720 L651,733 L753,708 L764,706 L764,709 L651,737 L541.9,723 Z" fill="#f2f2f2"/>
<g fill="#d8d8d8" stroke="#555" stroke-width="0.6"><rect x="539.5" y="480" width="4.5" height="11" rx="1.8"/><rect x="541" y="614" width="4.5" height="12.5" rx="1.8"/><rect x="541.5" y="686" width="4.5" height="12.5" rx="1.8"/><rect x="650" y="492" width="6.5" height="12.5" rx="2"/><rect x="652" y="627.5" width="6.5" height="12.5" rx="2"/><rect x="653" y="700" width="6.5" height="12.5" rx="2"/></g>
<path d="M731.7,499.4 L752,498.5 L752.5,559 Q752.5,562 749,562 L731.7,563.3 Z" fill="#cbcbcb"/>
<g fill="#444" stroke="none"><rect x="735" y="506" width="2.2" height="13" rx="1"/><rect x="740" y="506" width="2.2" height="13" rx="1"/><rect x="745" y="506" width="2.2" height="13" rx="1"/><rect x="735" y="523" width="2.2" height="13" rx="1"/><rect x="740" y="523" width="2.2" height="13" rx="1"/><rect x="745" y="523" width="2.2" height="13" rx="1"/><rect x="735" y="540" width="2.2" height="13" rx="1"/><rect x="740" y="540" width="2.2" height="13" rx="1"/><rect x="745" y="540" width="2.2" height="13" rx="1"/></g>
<!-- blue-gray plate -->
<path d="M543.7,497 L647.4,506.3 L647.4,556.3 L543.7,545.2 Z" fill="#95a9ae" stroke="#4d5a5d"/>
<!-- elbows -->
<path d="M586,515 C575,508 566,505 558,505 C545,505 534,515 533.5,532 L536,598 Q545,602 553,598 L552.8,552 C553,545 558,540 566,539 L586,537 Z" fill="#a3bac1" stroke="#3d4b4f" stroke-width="0.8"/>
<path d="M538,532 C539,516 548,509 560,509 C568,509 577,512 585,519" fill="none" stroke="#d3e2e6" stroke-width="2.5"/>
<path d="M546,535 C548,522 555,516 565,516 L586,523 M541,548 L543,596 M548,546 L548.5,598 M536.2,580 L552.8,580 M536.6,590 L552.8,590 M570,506 C562,514 560,530 563,539 M578,510 C571,518 571,530 574,538" fill="none" stroke="#55666b" stroke-width="0.6"/>
<path d="M633,521 C622,514 613,511 605,511 C592,511 581,521 580.5,538 L583,604 Q592,608 600,604 L599.8,558 C600,551 605,546 613,545 L633,543 Z" fill="#a3bac1" stroke="#3d4b4f" stroke-width="0.8"/>
<path d="M585,538 C586,522 595,515 607,515 C615,515 624,518 632,525" fill="none" stroke="#d3e2e6" stroke-width="2.5"/>
<path d="M593,541 C595,528 602,522 612,522 L633,529 M588,554 L590,602 M595,552 L595.5,604 M583.2,586 L599.8,586 M583.6,596 L599.8,596 M617,512 C609,520 607,536 610,545 M625,516 C618,524 618,536 621,544" fill="none" stroke="#55666b" stroke-width="0.6"/>
<ellipse cx="582" cy="527" rx="2.5" ry="3.5" fill="#6f8186"/>
<ellipse cx="629" cy="533" rx="2.5" ry="3.5" fill="#6f8186"/>

</g>
</g>
<g id="leaders" stroke="#484848" stroke-width="1.5" fill="none">
<path d="M740 425.4H856.3M623 473.9H856.3M665 497H856.3M680 551.3H856.3M697 588.9H856.3M658 609.6H856.3M710 664H856.3"/>
<path d="M148.4 609.4H307.8M148.4 700.6H307M148.4 725.2H307.8"/>
<g fill="#fff"><circle cx="859.3" cy="425.4" r="3"/><circle cx="859.3" cy="473.9" r="3"/><circle cx="859.3" cy="497" r="3"/><circle cx="859.3" cy="551.3" r="3"/><circle cx="859.3" cy="588.9" r="3"/><circle cx="859.3" cy="609.6" r="3"/><circle cx="859.3" cy="664" r="3"/>
<circle cx="145.4" cy="609.4" r="3"/><circle cx="145.4" cy="700.6" r="3"/><circle cx="145.4" cy="725.2" r="3"/></g>
</g>
</svg>
<div class="lbl" style="left:883px;top:417px">Control board</div>
<div class="lbl" style="left:883px;top:464.5px">Water filter</div>
<div class="lbl" style="left:883px;top:490.5px">Main power supply</div>
<div class="lbl" style="left:883px;top:543.8px">Auxiliary power supply</div>
<div class="lbl" style="left:883px;top:582.3px">Solid-state relay</div>
<div class="lbl" style="left:883px;top:604px">Current filter</div>
<div class="lbl" style="left:883px;top:656px">TEC refrigerator</div>
<div class="lbl" style="left:45px;top:601.8px">Water tank</div>
<div class="lbl" style="left:45px;top:692px">Water pump</div>
<div class="lbl" style="left:45px;top:717.5px">Air pump</div>
</body></html>
